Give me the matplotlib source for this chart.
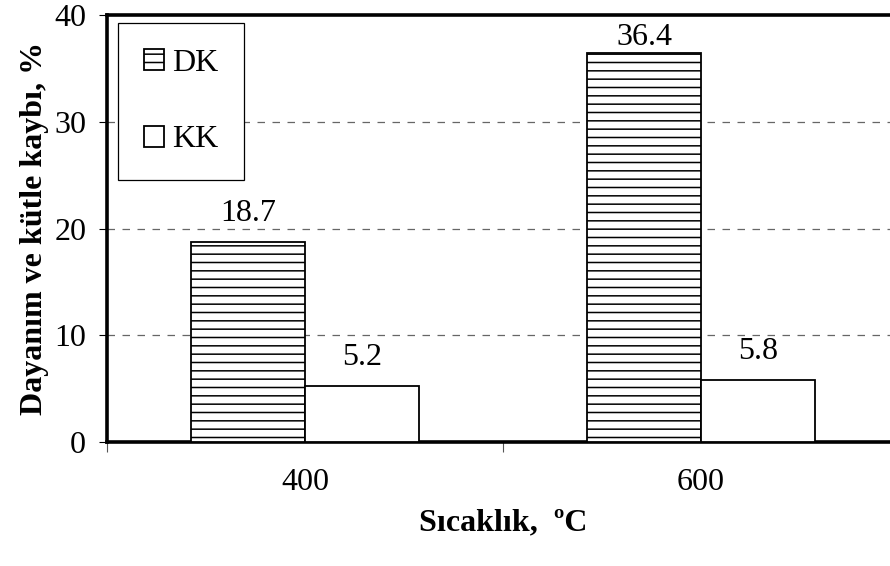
import matplotlib.pyplot as plt
import numpy as np

plt.rcParams['font.family'] = ['Liberation Serif', 'DejaVu Serif']
plt.rcParams['hatch.linewidth'] = 1.1

temps = ['400', '600']
dk = [18.7, 36.4]
kk = [5.2, 5.8]
series_names = ['DK', 'KK']

fs = 23

fig = plt.figure(figsize=(8.9, 5.66), dpi=100)
ax = fig.add_axes([107/890, 124/566, 792/890, 427/566])

x = np.arange(len(temps))
w = 0.288
b1 = ax.bar(x - w/2, dk, w, color='white', edgecolor='black', linewidth=1.3,
            hatch='--', label=series_names[0], zorder=3)
b2 = ax.bar(x + w/2, kk, w, color='white', edgecolor='black', linewidth=1.3,
            label=series_names[1], zorder=3)

# value labels above bars
for bars, vals in [(b1, dk), (b2, kk)]:
    for r, v in zip(bars, vals):
        ax.text(r.get_x() + r.get_width()/2, min(v + 2.0, 37.2), f'{v:.1f}',
                ha='center', va='baseline', fontsize=fs, zorder=4)

ax.set_ylim(0, 40)
ax.set_xlim(-0.5, len(temps) - 0.5)
ax.set_yticks([0, 10, 20, 30, 40])
ax.tick_params(axis='y', labelsize=fs, length=6, width=0.8, pad=9)

# category boundary ticks + centered labels
ax.set_xticks(np.arange(len(temps) + 1) - 0.5)
ax.set_xticklabels([])
ax.tick_params(axis='x', which='major', length=7, width=0.8, color='#555555')
ax.set_xticks(x, minor=True)
ax.set_xticklabels(temps, minor=True)
ax.tick_params(axis='x', which='minor', length=0, labelsize=fs, pad=19)

for yv in [10, 20, 30]:
    ax.axhline(yv, color='#666666', lw=0.9, ls=(0, (6, 6)), zorder=1)

for s in ['left', 'bottom', 'top']:
    ax.spines[s].set_linewidth(2.6)
ax.spines['right'].set_visible(False)

ax.set_ylabel('Dayanım ve kütle kaybı, %', fontsize=fs, fontweight='bold', labelpad=4)
ax.set_xlabel('Sıcaklık,  ºC', fontsize=fs, fontweight='bold', labelpad=8)

leg = ax.legend(loc='upper left', bbox_to_anchor=(11/792, 1 - 8/427), fontsize=fs,
                frameon=True, fancybox=False, framealpha=1, edgecolor='black',
                handlelength=0.65, handleheight=0.65, handletextpad=0.25,
                labelspacing=1.5, borderpad=0.8, borderaxespad=0)
leg.get_frame().set_linewidth(0.9)

fig.savefig('out.png', dpi=100)
